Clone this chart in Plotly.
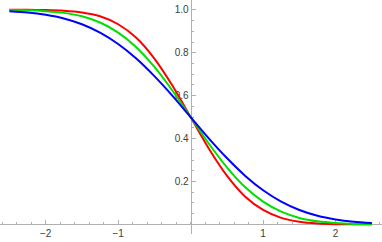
import plotly.graph_objects as go

x_vals = [-2.5, -2.25, -2.0, -1.75, -1.5, -1.25, -1.0, -0.75, -0.5, -0.25, 0.0,
          0.25, 0.5, 0.75, 1.0, 1.25, 1.5, 1.75, 2.0, 2.25, 2.5]
red_vals = [1.000, 1.000, 0.999, 0.996, 0.988, 0.970, 0.933, 0.870, 0.773, 0.646, 0.500,
            0.354, 0.227, 0.130, 0.067, 0.030, 0.012, 0.004, 0.001, 0.000, 0.000]
green_vals = [0.999, 0.998, 0.994, 0.986, 0.970, 0.941, 0.894, 0.826, 0.734, 0.623, 0.500,
              0.377, 0.266, 0.174, 0.106, 0.059, 0.030, 0.014, 0.006, 0.002, 0.001]
blue_vals = [0.994, 0.988, 0.977, 0.960, 0.933, 0.894, 0.841, 0.773, 0.691, 0.599, 0.500,
             0.401, 0.309, 0.227, 0.159, 0.106, 0.067, 0.040, 0.023, 0.012, 0.006]

x_tickvals = [-2, -1, 1, 2]
x_ticktext = ["\u22122", "\u22121", "1", "2"]
y_tickvals = [0.2, 0.4, 0.6, 0.8, 1.0]
y_ticktext = ["0.2", "0.4", "0.6", "0.8", "1.0"]

series = [("red", red_vals, "#ff0000"), ("green", green_vals, "#00e000"), ("blue", blue_vals, "#0000ff")]

fig = go.Figure()
for name, vals, col in series:
    fig.add_trace(go.Scatter(x=x_vals, y=vals, mode="lines", name=name, hoverinfo="skip",
                             line=dict(color=col, width=2, shape="spline", smoothing=0.8)))

y_top, y_bot = 1.046, -0.045
x_left, x_right = -2.63, 2.64
axis_col = "#b0b0b0"
fig.update_layout(
    width=382, height=242,
    margin=dict(l=0, r=0, t=0, b=8, autoexpand=False),
    plot_bgcolor="white", paper_bgcolor="white",
    showlegend=False,
    font=dict(family="Liberation Sans, Arial, sans-serif", size=10, color="#3c3c3c"),
    xaxis=dict(range=[x_left, x_right], anchor="free", position=(0 - y_bot) / (y_top - y_bot),
               automargin=False,
               showgrid=False, zeroline=False, showline=True, linecolor=axis_col, linewidth=1,
               tickvals=x_tickvals, ticktext=x_ticktext, ticks="inside", ticklen=4,
               tickcolor=axis_col, layer="below traces",
               minor=dict(ticks="inside", dtick=0.2, ticklen=2, tickcolor=axis_col, showgrid=False)),
    yaxis=dict(range=[y_bot, y_top], anchor="free", position=(0 - x_left) / (x_right - x_left),
               automargin=False,
               showgrid=False, zeroline=False, showline=True, linecolor=axis_col, linewidth=1,
               tickvals=y_tickvals, ticktext=y_ticktext, ticks="inside", ticklen=4,
               tickcolor=axis_col, layer="below traces",
               minor=dict(ticks="inside", dtick=0.05, ticklen=2, tickcolor=axis_col, showgrid=False)),
)

fig.write_html("out.html", config={"displayModeBar": False, "staticPlot": True},
               post_script="document.body.style.margin='0';document.body.style.overflow='hidden';")
